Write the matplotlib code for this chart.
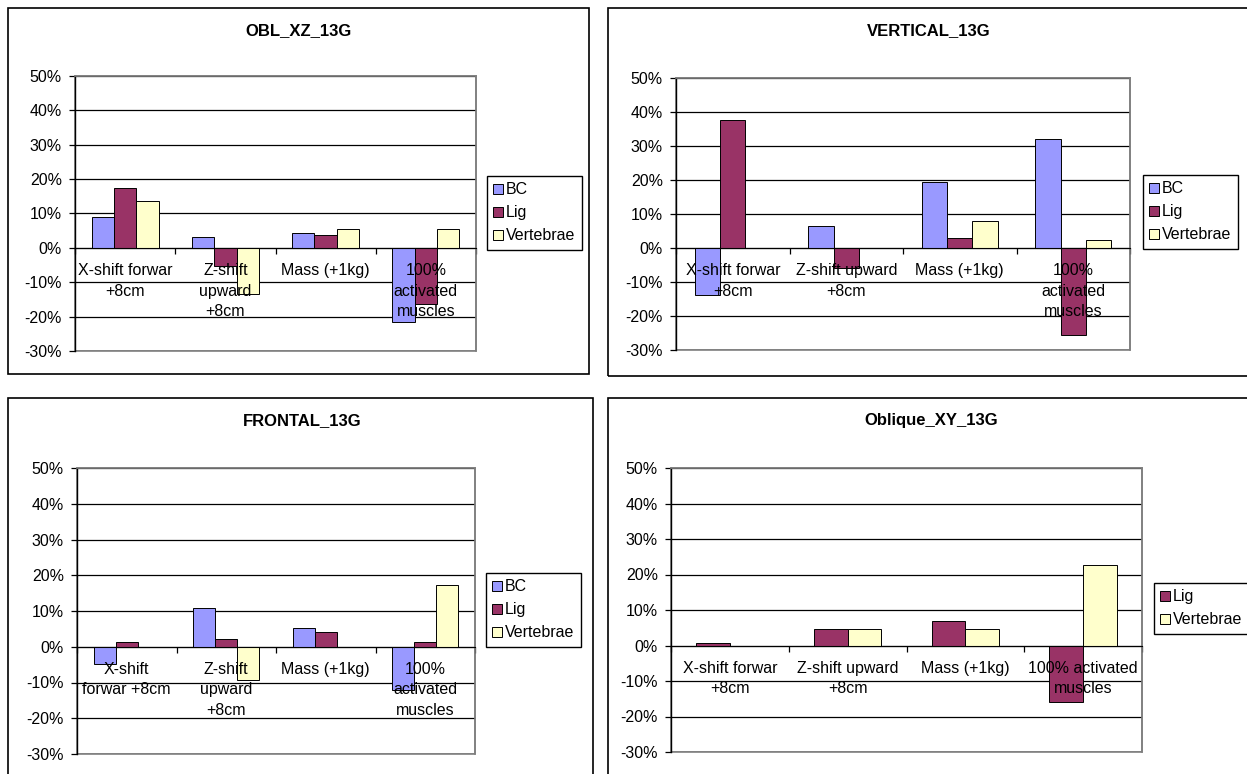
import matplotlib
matplotlib.use("Agg")
import matplotlib.pyplot as plt
from matplotlib.patches import Rectangle, Patch

plt.rcParams['font.family'] = ['Liberation Sans', 'DejaVu Sans']
plt.rcParams['font.size'] = 11.5

# series colours (classic office palette)
COL_BC = "#9999FF"
COL_LIG = "#993366"
COL_VERT = "#FFFFCC"
GRID_COL = "black"
BORDER_COL = "#808080"
FS = 11.5

# --- data -------------------------------------------------------------
yticks = [-0.3, -0.2, -0.1, 0.0, 0.1, 0.2, 0.3, 0.4, 0.5]
ytick_labels = ["-30%", "-20%", "-10%", "0%", "10%", "20%", "30%", "40%", "50%"]

obl_xz_labels = ["X-shift forwar\n+8cm", "Z-shift\nupward\n+8cm", "Mass (+1kg)",
                 "100%\nactivated\nmuscles"]
obl_xz_bc = [0.091, 0.033, 0.042, -0.216]
obl_xz_lig = [0.175, -0.053, 0.038, -0.162]
obl_xz_vert = [0.137, -0.133, 0.054, 0.054]

vertical_labels = ["X-shift forwar\n+8cm", "Z-shift upward\n+8cm", "Mass (+1kg)",
                   "100%\nactivated\nmuscles"]
vertical_bc = [-0.139, 0.065, 0.195, 0.322]
vertical_lig = [0.376, -0.058, 0.029, -0.256]
vertical_vert = [0.0, 0.0, 0.079, 0.025]

frontal_labels = ["X-shift\nforwar +8cm", "Z-shift\nupward\n+8cm", "Mass (+1kg)",
                  "100%\nactivated\nmuscles"]
frontal_bc = [-0.049, 0.109, 0.052, -0.122]
frontal_lig = [0.013, 0.021, 0.042, 0.013]
frontal_vert = [0.0, -0.094, 0.0, 0.174]

oblique_xy_labels = ["X-shift forwar\n+8cm", "Z-shift upward\n+8cm", "Mass (+1kg)",
                     "100% activated\nmuscles"]
oblique_xy_lig = [0.006, 0.046, 0.070, -0.159]
oblique_xy_vert = [0.0, 0.046, 0.046, 0.228]

# --- layout (pixels on a 1247x774 canvas) ------------------------------
W, H = 1247, 774
fig = plt.figure(figsize=(W / 100, H / 100), dpi=100)
fig.patch.set_facecolor("white")


def fx(x):
    return x / W


def fy(y):
    return 1 - y / H


def add_frame(x0, y0, x1, y1):
    fig.patches.append(Rectangle((fx(x0), fy(y1)), (x1 - x0) / W, (y1 - y0) / H,
                                 transform=fig.transFigure, fill=False,
                                 ec="black", lw=1.2))


def draw_panel(title, title_xy, frame, plot_box, legend_xy, labels, series):
    add_frame(*frame)
    fig.text(fx(title_xy[0]), fy(title_xy[1]), title, ha="center", va="center",
             fontsize=12, fontweight="bold")

    l, t, r, b = plot_box
    ax = fig.add_axes([fx(l), fy(b), (r - l) / W, (b - t) / H])
    ax.set_axisbelow(True)

    n = len(series)
    width = 1 / (n + 1.5)
    xs = range(len(labels))
    for j, (name, vals, col) in enumerate(series):
        off = (j - (n - 1) / 2) * width
        ax.bar([x + off for x in xs], vals, width=width, color=col,
               edgecolor="black", linewidth=0.7, label=name, zorder=2)

    ax.set_xlim(-0.5, len(labels) - 0.5)
    ax.set_ylim(yticks[0], yticks[-1])
    ax.set_yticks(yticks)
    ax.set_yticklabels(ytick_labels)
    ax.yaxis.grid(True, color=GRID_COL, lw=0.9)
    ax.tick_params(axis="y", direction="out", length=4.5, width=0.9, pad=5,
                   labelsize=FS)

    # category axis sits on the zero line, ticks between categories
    ax.spines["bottom"].set_position(("data", 0))
    ax.spines["bottom"].set_color("black")
    ax.spines["bottom"].set_zorder(3)
    ax.set_xticks([x - 0.5 for x in range(len(labels) + 1)])
    ax.set_xticklabels([])
    ax.tick_params(axis="x", direction="out", length=4, width=0.9)
    ax.spines["left"].set_color("black")
    ax.spines["left"].set_linewidth(1.0)
    for side in ("top", "right"):
        ax.spines[side].set_color(BORDER_COL)
        ax.spines[side].set_linewidth(1.2)
    ax.add_patch(Rectangle((0, 0), 1, 1, transform=ax.transAxes, fill=False,
                           ec=BORDER_COL, lw=1.2, zorder=0.5, clip_on=False))

    for x, lab in zip(xs, labels):
        ax.annotate(lab, xy=(x, 0), xytext=(0, -11), textcoords="offset points",
                    ha="center", va="top", fontsize=FS, linespacing=1.45,
                    zorder=5, annotation_clip=False)

    handles = [Patch(facecolor=col, edgecolor="black", lw=0.7, label=name)
               for name, _, col in series]
    fig.legend(handles=handles, loc="upper left",
               bbox_to_anchor=(fx(legend_xy[0]), fy(legend_xy[1])),
               bbox_transform=fig.transFigure, frameon=True, fancybox=False,
               edgecolor="black", framealpha=1, fontsize=FS,
               handlelength=0.6, handleheight=0.6, handletextpad=0.2,
               labelspacing=0.5, borderpad=0.4, borderaxespad=0)
    return ax


draw_panel("OBL_XZ_13G", (299, 31), (8, 8, 589, 374), (75, 76, 476, 351),
           (487, 176), obl_xz_labels,
           [("BC", obl_xz_bc, COL_BC), ("Lig", obl_xz_lig, COL_LIG),
            ("Vertebrae", obl_xz_vert, COL_VERT)])

draw_panel("VERTICAL_13G", (929, 31), (608, 8, 1252, 376), (676, 78, 1130, 350),
           (1143, 175), vertical_labels,
           [("BC", vertical_bc, COL_BC), ("Lig", vertical_lig, COL_LIG),
            ("Vertebrae", vertical_vert, COL_VERT)])

draw_panel("FRONTAL_13G", (302, 421), (8, 398, 593, 780), (77, 468, 475, 754),
           (486, 573), frontal_labels,
           [("BC", frontal_bc, COL_BC), ("Lig", frontal_lig, COL_LIG),
            ("Vertebrae", frontal_vert, COL_VERT)])

draw_panel("Oblique_XY_13G", (931, 421), (608, 398, 1252, 780), (671, 468, 1142, 752),
           (1154, 583), oblique_xy_labels,
           [("Lig", oblique_xy_lig, COL_LIG), ("Vertebrae", oblique_xy_vert, COL_VERT)])

fig.savefig("out.png", dpi=100, facecolor="white")
